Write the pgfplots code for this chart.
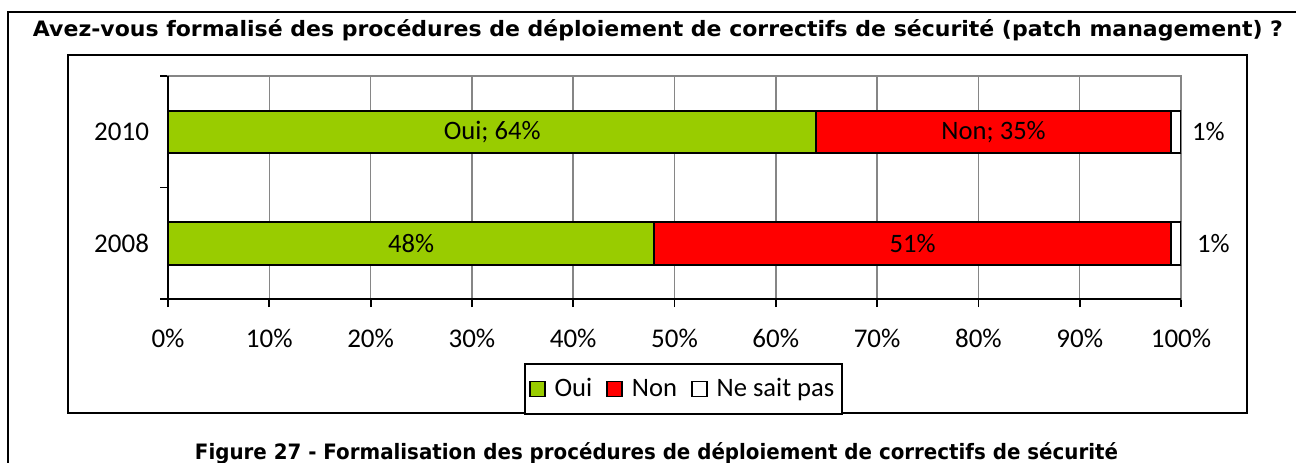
\documentclass[border=0pt]{standalone}
\usepackage{graphicx}
\usepackage{pgfplots}
\usepackage{pgfplotstable}
\pgfplotsset{compat=1.18}
\usepackage{fontspec}
\setmainfont{Carlito}
\newfontfamily\tfont{DejaVu Sans}
\definecolor{ouigreen}{RGB}{153,204,0}
\definecolor{nonred}{RGB}{255,0,0}
\definecolor{gridgray}{RGB}{134,134,134}
\protected\def\semi{;}

\pgfplotstableread{
y oui non nsp
0 48 51 1
1 64 35 1
}\data

\pgfplotstableread[col sep=comma]{
x,y,label
32,1,{Oui\semi{} 64\%}
81.5,1,{Non\semi{} 35\%}
24,0,48\%
73.5,0,51\%
102.7,1,1\%
103.2,0,1\%
}\labels

\begin{document}
\begin{tikzpicture}
\useasboundingbox (0,0) rectangle (648pt,231pt);
% outer frame
\draw[line width=1pt] (4pt,-5pt) -- (4pt,225pt) -- (660pt,225pt);
% title
\node[anchor=base, font=\tfont\bfseries\fontsize{10.6}{12}\selectfont, inner sep=0pt] at (329pt,212.5pt)
  {\resizebox{625pt}{\height}{Avez-vous formalisé des procédures de déploiement de correctifs de sécurité (patch management) ?}};
% inner frame
\draw[line width=1pt] (34pt,24.5pt) rectangle (623.5pt,203.5pt);
% caption
\node[anchor=base, font=\tfont\bfseries\fontsize{10.6}{12}\selectfont, inner sep=0pt] at (328.25pt,1.5pt)
  {\resizebox{461.5pt}{\height}{Figure 27 - Formalisation des procédures de déploiement de correctifs de sécurité}};

\begin{axis}[
  at={(84pt,81.5pt)}, anchor=south west,
  scale only axis, width=506.5pt, height=111.5pt,
  xbar stacked, bar width=21.25pt,
  xmin=0, xmax=100, ymin=-0.5, ymax=1.5,
  xtick={0,10,...,100},
  xticklabel={\pgfmathprintnumber{\tick}\%},
  ytick={-0.5,0.5,1.5}, yticklabels={},
  extra y ticks={0,1}, extra y tick labels={2008,2010},
  extra y tick style={major tick length=0pt, grid=none},
  xmajorgrids, grid style={gridgray, line width=0.75pt},
  axis line style={draw=gridgray, line width=0.75pt},
  tick align=outside, xtick pos=left, ytick pos=left,
  major tick length=4pt,
  tick style={black, line width=0.9pt},
  /pgf/number format/assume math mode=true,
  ticklabel style={font=\fontsize{13.5}{15}\selectfont},
  xticklabel style={yshift=-7.5pt},
  yticklabel style={xshift=-6pt},
  legend style={at={(0.509,-0.404)}, anchor=center, legend columns=-1,
    draw=black, line width=1pt, font=\fontsize{13.3}{15}\selectfont,
    inner xsep=2pt, inner ysep=5pt,
    /tikz/every odd column/.append style={column sep=2.5pt},
    /tikz/every even column/.append style={column sep=5pt}},
  legend image code/.code={\draw[#1, line width=0.8pt] (0pt,-3.75pt) rectangle (7.5pt,3.75pt);},
]
\addplot[fill=ouigreen, draw=black, line width=1pt] table[x=oui, y=y] {\data};
\addplot[fill=nonred, draw=black, line width=1pt] table[x=non, y=y] {\data};
\addplot[fill=white, draw=black, line width=1pt] table[x=nsp, y=y] {\data};
\legend{Oui, Non, Ne sait pas}
\end{axis}

\begin{axis}[
  at={(84pt,81.5pt)}, anchor=south west,
  scale only axis, width=506.5pt, height=111.5pt,
  xmin=0, xmax=100, ymin=-0.5, ymax=1.5,
  hide axis, clip=false,
]
\draw[black, line width=1.1pt] (rel axis cs:0,1) -- (rel axis cs:0,0) -- (rel axis cs:1,0);
\addplot[only marks, mark=none, nodes near coords, point meta=explicit symbolic,
  every node near coord/.append style={anchor=center, font=\fontsize{13.3}{15}\selectfont}]
  table[x=x, y=y, meta=label] {\labels};
\end{axis}
\end{tikzpicture}
\end{document}
